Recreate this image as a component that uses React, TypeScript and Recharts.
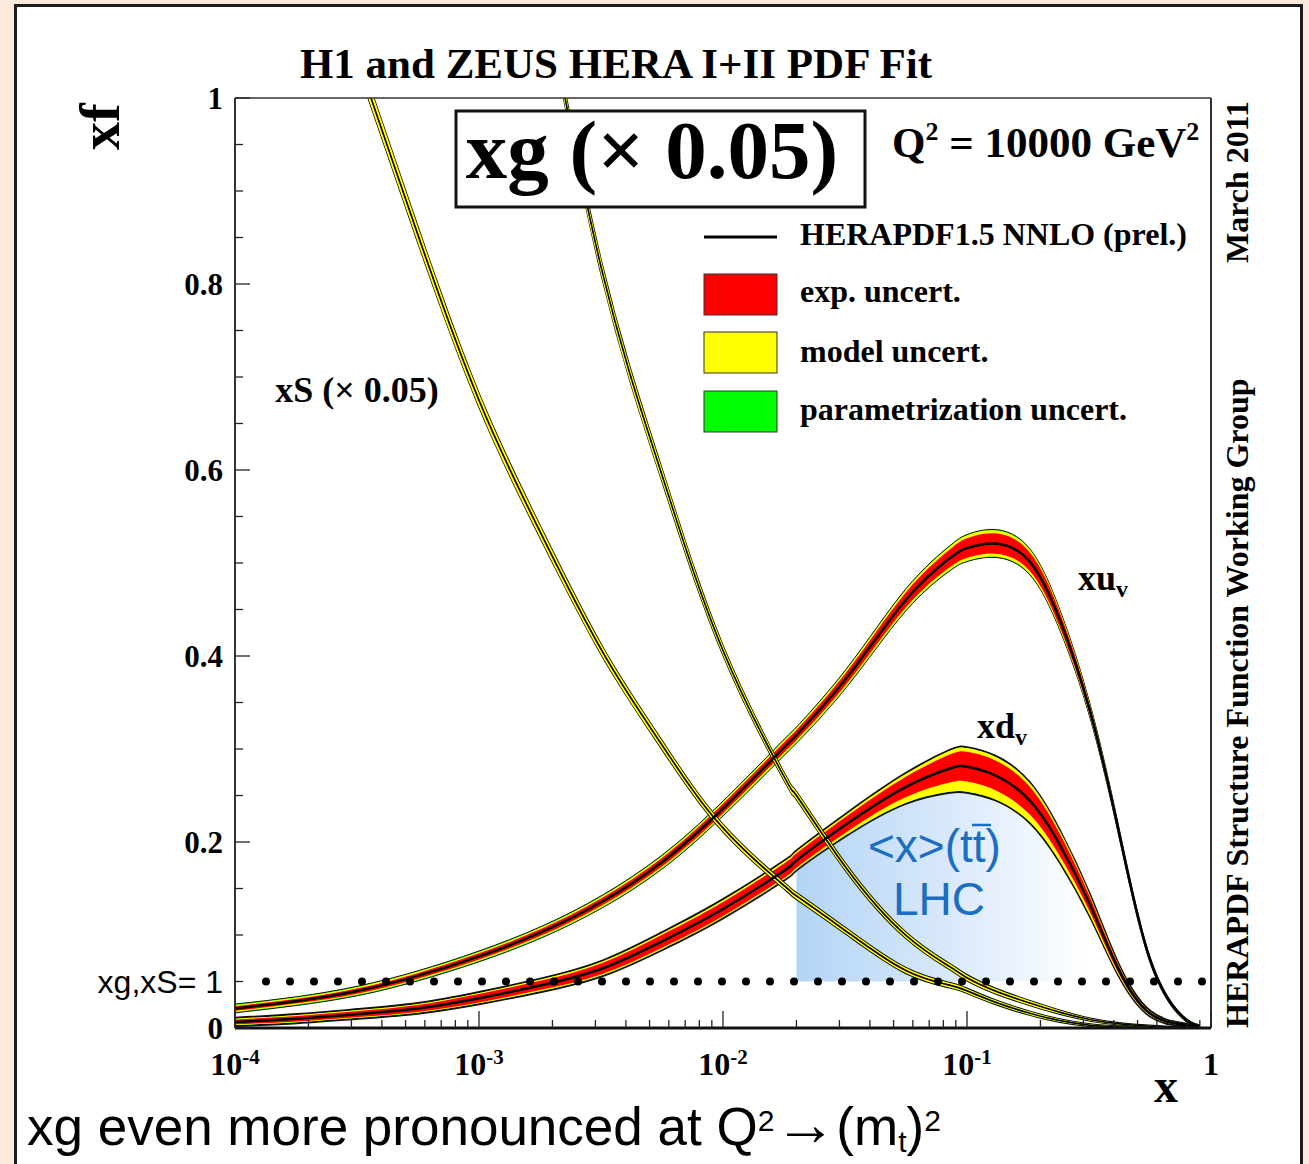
import React from "react";
import { ComposedChart, Area, Line, XAxis, YAxis, ReferenceLine } from "recharts";

// x grid shared by all curves (log spaced, denser where curves bend)
const X = [1e-4, 1.8e-4, 3.2e-4, 5.6e-4, 1e-3, 1.8e-3, 3.2e-3, 5.6e-3, 0.01, 0.018, 0.02, 0.032, 0.056, 0.085, 0.1, 0.13, 0.18, 0.24, 0.32, 0.42, 0.56, 0.75, 0.9];

// xu_v: central value, exp. half width, model half width
const XUV = [0.021, 0.029, 0.04, 0.056, 0.077, 0.103, 0.136, 0.178, 0.236, 0.303, 0.315, 0.376, 0.46, 0.505, 0.516, 0.521, 0.502, 0.439, 0.34, 0.21, 0.075, 0.014, 0.002];
const XUV_EXP = [0.0025, 0.0025, 0.0028, 0.003, 0.0033, 0.0036, 0.004, 0.0045, 0.005, 0.0055, 0.0055, 0.0065, 0.008, 0.0095, 0.0105, 0.011, 0.01, 0.008, 0.005, 0.003, 0.0015, 0.0008, 0.0003];
const XUV_MOD = [0.0012, 0.0012, 0.0013, 0.0014, 0.0015, 0.0016, 0.0018, 0.002, 0.002, 0.0022, 0.0022, 0.0025, 0.0028, 0.003, 0.003, 0.003, 0.003, 0.002, 0.0015, 0.001, 0.0006, 0.0003, 0.0001];

// xd_v: model band is asymmetric
const XDV = [0.0065, 0.01, 0.015, 0.021, 0.032, 0.046, 0.064, 0.093, 0.128, 0.17, 0.18, 0.219, 0.259, 0.279, 0.281, 0.272, 0.245, 0.197, 0.132, 0.062, 0.016, 0.004, 0.001];
const XDV_EXP = [0.0025, 0.003, 0.0033, 0.0037, 0.0045, 0.005, 0.006, 0.007, 0.0075, 0.0078, 0.0078, 0.0085, 0.011, 0.015, 0.016, 0.016, 0.015, 0.012, 0.008, 0.004, 0.0015, 0.0005, 0.0002];
const XDV_MOD_UP = [0.001, 0.001, 0.001, 0.0011, 0.0012, 0.0013, 0.0015, 0.0017, 0.002, 0.002, 0.002, 0.0022, 0.003, 0.004, 0.004, 0.004, 0.004, 0.003, 0.002, 0.001, 0.0005, 0.0002, 0.0001];
const XDV_MOD_DN = [0.0008, 0.0008, 0.0008, 0.0009, 0.001, 0.0012, 0.0013, 0.0015, 0.0015, 0.0017, 0.0018, 0.003, 0.006, 0.01, 0.011, 0.01, 0.008, 0.006, 0.004, 0.002, 0.0008, 0.0003, 0.0001];

// xS (x 0.05)
const XS = [1.55, 1.25, 1.04, 0.854, 0.675, 0.531, 0.405, 0.305, 0.215, 0.152, 0.142, 0.104, 0.062, 0.046, 0.04, 0.028, 0.016, 0.008, 0.003, 0.001, 0.0003, 0, 0];
const XS_EXP = [0.002, 0.002, 0.002, 0.002, 0.0017, 0.0015, 0.0012, 0.0011, 0.001, 0.0009, 0.0009, 0.0008, 0.0008, 0.0007, 0.0007, 0.0006, 0.0005, 0.0004, 0.0003, 0.0002, 0.0001, 0, 0];
const XS_MOD = [0.008, 0.0075, 0.007, 0.0065, 0.0055, 0.0048, 0.004, 0.0034, 0.0027, 0.0023, 0.0023, 0.0021, 0.0019, 0.0017, 0.0016, 0.0014, 0.0012, 0.0009, 0.0006, 0.0004, 0.0002, 0.0001, 0];

// xg (x 0.05)
const XG = [4.2, 3.3, 2.6, 2.0, 1.5, 1.13, 0.813, 0.596, 0.406, 0.268, 0.25, 0.172, 0.1, 0.066, 0.054, 0.04, 0.027, 0.017, 0.009, 0.0045, 0.002, 0.0005, 0];
const XG_EXP = [0.003, 0.003, 0.0025, 0.0025, 0.002, 0.002, 0.0018, 0.0015, 0.0012, 0.001, 0.001, 0.0009, 0.0008, 0.0008, 0.0008, 0.0007, 0.0006, 0.0005, 0.0003, 0.0002, 0.0001, 0, 0];
const XG_MOD = [0.008, 0.008, 0.0075, 0.0075, 0.007, 0.0065, 0.006, 0.0052, 0.0038, 0.003, 0.003, 0.0026, 0.0022, 0.002, 0.002, 0.0018, 0.0016, 0.0012, 0.0008, 0.0005, 0.0003, 0.0001, 0];

// parametrisation uncertainty (thin green fringe)
const PARAM_XUV = 0.001;
const PARAM_XDV = 0.001;
const PARAM_XS = 0.0006;
const PARAM_XG = 0.0006;

// LHC <x>(tt) region and the xg,xS = 1 level
const LHC_FROM = 0.02;
const LHC_TO = 0.42;
const UNIT_LEVEL = 0.05;
const DOTS_FROM = 1.34e-4;

const X_DECADES = [1e-4, 1e-3, 1e-2, 1e-1, 1];
const X_DECADE_EXP = ["-4", "-3", "-2", "-1", ""];
const X_MINOR = [2, 3, 4, 5, 6, 7, 8, 9];
const Y_MAJOR = [0, 0.2, 0.4, 0.6, 0.8, 1];

const PLOT = { left: 235, top: 98, right: 1211, bottom: 1028 };
const W = 1309;
const H = 1164;
const SERIF = '"Liberation Serif", "Times New Roman", serif';
const SANS = '"Liberation Sans", Arial, sans-serif';
const BLUE = "#1b6ec2";
const CURVE = "natural" as const;

function bands(c: number, e: number, mu: number, md: number, p: number) {
  return {
    exp: [c - e, c + e],
    mod: [c - e - md, c + e + mu],
    tot: [c - e - md - p, c + e + mu + p],
  };
}

const rows = X.map((x, i) => {
  const uv = bands(XUV[i], XUV_EXP[i], XUV_MOD[i], XUV_MOD[i], PARAM_XUV);
  const dv = bands(XDV[i], XDV_EXP[i], XDV_MOD_UP[i], XDV_MOD_DN[i], PARAM_XDV);
  const s = bands(XS[i], XS_EXP[i], XS_MOD[i], XS_MOD[i], PARAM_XS);
  const g = bands(XG[i], XG_EXP[i], XG_MOD[i], XG_MOD[i], PARAM_XG);
  const inLhc = x >= LHC_FROM * 0.999 && x <= LHC_TO * 1.001;
  return {
    x,
    xuv: XUV[i], xuvExp: uv.exp, xuvMod: uv.mod, xuvTot: uv.tot,
    xdv: XDV[i], xdvExp: dv.exp, xdvMod: dv.mod, xdvTot: dv.tot,
    xs: XS[i], xsExp: s.exp, xsMod: s.mod, xsTot: s.tot,
    xg: XG[i], xgExp: g.exp, xgMod: g.mod, xgTot: g.tot,
    lhc: inLhc ? [UNIT_LEVEL, dv.tot[0]] : null,
  };
});

const xTicks: number[] = [];
X_DECADES.forEach((d, i) => {
  xTicks.push(d);
  if (i < X_DECADES.length - 1) X_MINOR.forEach((k) => xTicks.push(k * d));
});
const yTicks: number[] = [];
for (let i = 0; i <= 20; i++) yTicks.push(Math.round(i * 5) / 100);

const XTick = (props: any) => {
  const { x, payload } = props;
  const v = payload.value;
  const di = X_DECADES.findIndex((d) => Math.abs(d - v) / d < 1e-6);
  const major = di >= 0;
  return (
    <g>
      <line x1={x} x2={x} y1={PLOT.bottom} y2={PLOT.bottom - (major ? 17 : 8)} stroke="#222" strokeWidth={1.3} />
      {major && (
        <text x={x} y={1075} textAnchor="middle" fontFamily={SERIF} fontWeight="bold" fontSize={32} fill="#000">
          {X_DECADE_EXP[di] ? (
            <>
              10<tspan fontSize={21} dy={-11}>{X_DECADE_EXP[di]}</tspan>
            </>
          ) : (
            "1"
          )}
        </text>
      )}
    </g>
  );
};

const YTick = (props: any) => {
  const { y, payload } = props;
  const v = payload.value;
  const major = Y_MAJOR.some((m) => Math.abs(m - v) < 1e-6);
  const unit = Math.abs(v - UNIT_LEVEL) < 1e-6;
  return (
    <g>
      <line x1={PLOT.left} x2={PLOT.left + (major ? 15 : 8)} y1={y} y2={y} stroke="#222" strokeWidth={1.3} />
      {major && (
        <text x={223} y={y + 11} textAnchor="end" fontFamily={SERIF} fontWeight="bold" fontSize={31} fill="#000">
          {v === 0 ? "0" : v === 1 ? "1" : v.toFixed(1)}
        </text>
      )}
      {unit && (
        <text x={223} y={y + 11} textAnchor="end" fontFamily={SANS} fontSize={32} fill="#000">
          xg,xS= 1
        </text>
      )}
    </g>
  );
};

const pdfLayers = (key: string, lw: number, edge: number) => [
  <Area key={key + "Tot"} dataKey={key + "Tot"} type={CURVE} fill="#00ff00" fillOpacity={1} stroke="#111" strokeWidth={edge} dot={false} activeDot={false} isAnimationActive={false} />,
  <Area key={key + "Mod"} dataKey={key + "Mod"} type={CURVE} fill="#ffff00" fillOpacity={1} stroke="none" dot={false} activeDot={false} isAnimationActive={false} />,
  <Area key={key + "Exp"} dataKey={key + "Exp"} type={CURVE} fill="#ff0000" fillOpacity={1} stroke="none" dot={false} activeDot={false} isAnimationActive={false} />,
  <Line key={key} dataKey={key} type={CURVE} stroke="#000" strokeWidth={lw} dot={false} activeDot={false} isAnimationActive={false} />,
];

const bold = { fontFamily: SERIF, fontWeight: "bold" as const, fill: "#000" };

export default function App() {
  return (
    <div style={{ position: "absolute", left: 0, top: 0, width: W, height: H, background: "#fdeadb", overflow: "hidden" }}>
      <div style={{ position: "absolute", left: 14, top: 4, width: 1289, height: 1240, boxSizing: "border-box", border: "3px solid #1c1c1c", background: "#fff" }} />
      <div style={{ position: "absolute", left: 0, top: 0 }}>
        <ComposedChart width={W} height={H} data={rows} margin={{ top: PLOT.top, right: W - PLOT.right, bottom: 0, left: 0 }}>
          <defs>
            <linearGradient id="lhcFade" x1="0" y1="0" x2="1" y2="0">
              <stop offset="0" stopColor="#b3d4f7" />
              <stop offset="0.5" stopColor="#dbeafb" />
              <stop offset="0.9" stopColor="#ffffff" />
            </linearGradient>
          </defs>
          <XAxis
            dataKey="x"
            type="number"
            scale="log"
            domain={[1e-4, 1]}
            allowDataOverflow
            ticks={xTicks}
            interval={0}
            tick={XTick}
            tickLine={false}
            height={H - PLOT.bottom}
            axisLine={{ stroke: "#111", strokeWidth: 3 }}
          />
          <YAxis
            type="number"
            domain={[0, 1]}
            allowDataOverflow
            ticks={yTicks}
            interval={0}
            tick={YTick}
            tickLine={false}
            width={PLOT.left}
            axisLine={{ stroke: "#333", strokeWidth: 2 }}
          />
          <Area dataKey="lhc" type={CURVE} fill="url(#lhcFade)" fillOpacity={1} stroke="none" dot={false} activeDot={false} isAnimationActive={false} />
          {pdfLayers("xdv", 2.5, 2)}
          {pdfLayers("xuv", 2.5, 1)}
          {pdfLayers("xs", 1.5, 1.2)}
          {pdfLayers("xg", 1.5, 1.2)}
          <ReferenceLine y={1} stroke="#333" strokeWidth={1.5} />
          <ReferenceLine x={1} stroke="#333" strokeWidth={2} />
          <ReferenceLine
            segment={[{ x: DOTS_FROM, y: UNIT_LEVEL }, { x: 1, y: UNIT_LEVEL }]}
            stroke="#000"
            strokeWidth={8}
            strokeDasharray="0 24"
            strokeLinecap="round"
          />
        </ComposedChart>
      </div>
      <svg width={W} height={H} style={{ position: "absolute", left: 0, top: 0, pointerEvents: "none" }}>
        <text x={616} y={78} textAnchor="middle" fontSize={43} {...bold}>H1 and ZEUS HERA I+II PDF Fit</text>
        <text transform="translate(119,150) rotate(-90)" fontSize={56} {...bold}>xf</text>
        <text transform="translate(1248,263) rotate(-90)" fontSize={32} {...bold}>March 2011</text>
        <text transform="translate(1248,1028) rotate(-90)" fontSize={32} {...bold}>HERAPDF Structure Function Working Group</text>

        <rect x={456} y={111} width={409} height={96} fill="#fff" stroke="#111" strokeWidth={3} />
        <text x={652} y={178} textAnchor="middle" fontSize={83} {...bold}>xg (× 0.05)</text>
        <text x={892} y={157} fontSize={43} {...bold}>
          Q<tspan fontSize={26} dy={-17}>2</tspan>
          <tspan dy={17}> = 10000 GeV</tspan>
          <tspan fontSize={26} dy={-17}>2</tspan>
        </text>

        <line x1={704} x2={777} y1={237} y2={237} stroke="#000" strokeWidth={3} />
        <text x={800} y={245} fontSize={32} {...bold}>HERAPDF1.5 NNLO (prel.)</text>
        <rect x={704} y={274} width={73} height={41} fill="#ff0000" stroke="#333" strokeWidth={1} />
        <text x={800} y={302} fontSize={32} {...bold}>exp. uncert.</text>
        <rect x={704} y={332} width={73} height={41} fill="#ffff00" stroke="#333" strokeWidth={1} />
        <text x={800} y={362} fontSize={32} {...bold}>model uncert.</text>
        <rect x={704} y={391} width={73} height={41} fill="#00ff00" stroke="#333" strokeWidth={1} />
        <text x={800} y={420} fontSize={32} {...bold}>parametrization uncert.</text>

        <text x={357} y={402} textAnchor="middle" fontSize={36} {...bold}>xS (× 0.05)</text>
        <text x={1078} y={590} fontSize={36} {...bold}>
          xu<tspan fontSize={24} dy={7}>v</tspan>
        </text>
        <text x={977} y={738} fontSize={36} {...bold}>
          xd<tspan fontSize={24} dy={7}>v</tspan>
        </text>

        <text x={868} y={862} fontFamily={SANS} fontSize={46} fill={BLUE}>&lt;x&gt;(tt)</text>
        <line x1={972} x2={991} y1={825} y2={825} stroke={BLUE} strokeWidth={2.5} />
        <text x={893} y={915} fontFamily={SANS} fontSize={46} fill={BLUE}>LHC</text>

        <text x={1166} y={1102} textAnchor="middle" fontSize={48} {...bold}>x</text>

        <text x={27} y={1145} fontFamily={SANS} fontSize={53} fill="#000">
          xg even more pronounced at Q<tspan fontSize={30} dy={-14}>2</tspan>
          <tspan dy={14} fontSize={62}>→</tspan>
          <tspan>(m</tspan>
          <tspan fontSize={30} dy={7}>t</tspan>
          <tspan dy={-7}>)</tspan>
          <tspan fontSize={30} dy={-14}>2</tspan>
        </text>
      </svg>
    </div>
  );
}
